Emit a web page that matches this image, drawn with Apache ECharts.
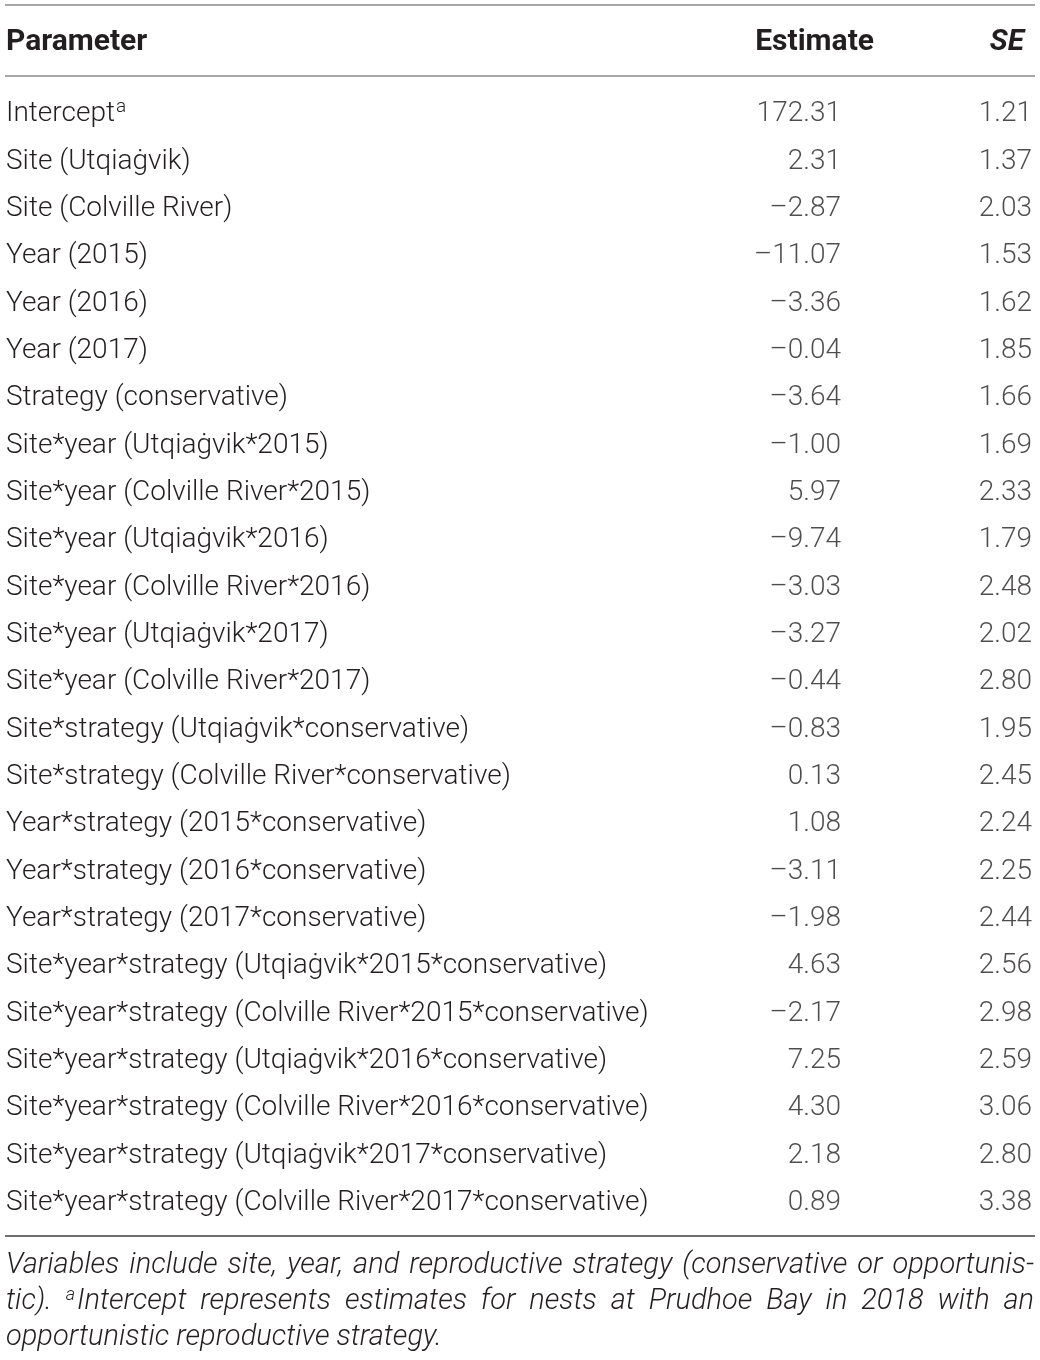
<!DOCTYPE html>
<html>
<head>
    <meta charset="utf-8">
    <script src="https://cdn.jsdelivr.net/npm/echarts@6/dist/echarts.min.js"></script>
</head>
<body>
    <div id="table"></div>
</body>
<style>
    body {
        margin: 0;
        background: #fff;
    }

    #table {
        width: 1040px;
        height: 1360px;
    }
</style>
<script>
    // table data
    const headers = ['Parameter', 'Estimate', 'SE']
    const parameters = [
        'Intercept',
        'Site (Utqiaġvik)',
        'Site (Colville River)',
        'Year (2015)',
        'Year (2016)',
        'Year (2017)',
        'Strategy (conservative)',
        'Site*year (Utqiaġvik*2015)',
        'Site*year (Colville River*2015)',
        'Site*year (Utqiaġvik*2016)',
        'Site*year (Colville River*2016)',
        'Site*year (Utqiaġvik*2017)',
        'Site*year (Colville River*2017)',
        'Site*strategy (Utqiaġvik*conservative)',
        'Site*strategy (Colville River*conservative)',
        'Year*strategy (2015*conservative)',
        'Year*strategy (2016*conservative)',
        'Year*strategy (2017*conservative)',
        'Site*year*strategy (Utqiaġvik*2015*conservative)',
        'Site*year*strategy (Colville River*2015*conservative)',
        'Site*year*strategy (Utqiaġvik*2016*conservative)',
        'Site*year*strategy (Colville River*2016*conservative)',
        'Site*year*strategy (Utqiaġvik*2017*conservative)',
        'Site*year*strategy (Colville River*2017*conservative)'
    ]
    const estimates = [172.31, 2.31, -2.87, -11.07, -3.36, -0.04, -3.64, -1.00, 5.97, -9.74, -3.03, -3.27,
        -0.44, -0.83, 0.13, 1.08, -3.11, -1.98, 4.63, -2.17, 7.25, 4.30, 2.18, 0.89]
    const standardErrors = [1.21, 1.37, 2.03, 1.53, 1.62, 1.85, 1.66, 1.69, 2.33, 1.79, 2.48, 2.02,
        2.80, 1.95, 2.45, 2.24, 2.25, 2.44, 2.56, 2.98, 2.59, 3.06, 2.80, 3.38]
    const footnoteLines = [
        'Variables include site, year, and reproductive strategy (conservative or opportunis-',
        'tic). ^aIntercept represents estimates for nests at Prudhoe Bay in 2018 with an',
        'opportunistic reproductive strategy.'
    ]

    const FONT = 'Roboto, "Liberation Sans", sans-serif'
    const TEXT = '#231f20'
    const bodySize = 28
    const noteSize = 29
    // right edges of the number columns (x axis runs 0..1040 like the page)
    const colRight = { estimate: 841, se: 1032 }

    const fmt = v => (v < 0 ? '\u2013' : '') + Math.abs(v).toFixed(2)

    const chart = echarts.init(document.getElementById('table'), null, { renderer: 'canvas' })

    // justified footnote, word by word
    const ctx = document.createElement('canvas').getContext('2d')
    function measure(text, size) {
        ctx.font = `italic 300 ${size}px Roboto`
        return ctx.measureText(text).width
    }
    const supSize = 18
    const noteLeft = 6, noteRight = 1034
    const noteGraphics = []
    footnoteLines.forEach((line, li) => {
        const words = line.split(' ')
        const widths = words.map(w => w.startsWith('^a')
            ? measure('a', supSize) + measure(w.slice(2), noteSize) + 2
            : measure(w, noteSize))
        const total = widths.reduce((a, b) => a + b, 0)
        const last = li === footnoteLines.length - 1
        const gap = last ? measure(' ', noteSize) : (noteRight - noteLeft - total) / (words.length - 1)
        let x = noteLeft
        const y = 1266 + li * 36
        words.forEach((w, wi) => {
            const sup = w.startsWith('^a')
            noteGraphics.push({
                type: 'text',
                x: x,
                y: y,
                style: {
                    text: sup ? `{s|a}{n|${w.slice(2)}}` : w,
                    rich: sup ? {
                        s: { fontSize: supSize, fontStyle: 'italic', fontWeight: 300, fontFamily: FONT, fill: TEXT, padding: [0, 2, 13, 0] },
                        n: { fontSize: noteSize, fontStyle: 'italic', fontWeight: 300, fontFamily: FONT, fill: TEXT }
                    } : undefined,
                    fontSize: noteSize,
                    fontStyle: 'italic',
                    fontWeight: 300,
                    fontFamily: FONT,
                    fill: TEXT,
                    verticalAlign: 'middle'
                }
            })
            x += widths[wi] + gap
        })
    })

    const header = (text, x, align, italic) => ({
        type: 'text',
        x: x,
        y: 42,
        style: {
            text: text,
            fontSize: 30,
            fontWeight: 'bold',
            fontStyle: italic ? 'italic' : 'normal',
            fontFamily: FONT,
            fill: TEXT,
            align: align,
            verticalAlign: 'middle'
        }
    })
    const rule = (y, color) => ({
        type: 'line',
        shape: { x1: 5, y1: y, x2: 1035, y2: y },
        style: { stroke: color, lineWidth: 2 }
    })

    const valueLabel = {
        show: true,
        position: 'left',
        distance: 0,
        color: TEXT,
        fontSize: bodySize,
        fontWeight: 300,
        fontFamily: FONT,
        formatter: p => fmt(p.value[2])
    }

    const option = {
        animation: false,
        grid: { left: 0, right: 0, top: 90.6, bottom: 133.4 },
        xAxis: { type: 'value', min: 0, max: 1040, show: false },
        yAxis: {
            type: 'category',
            inverse: true,
            data: parameters,
            axisLine: { show: false },
            axisTick: { show: false },
            splitLine: { show: false },
            axisLabel: {
                inside: true,
                margin: 6,
                formatter: v => v === 'Intercept' ? '{n|Intercept}{s|a}' : `{n|${v}}`,
                rich: {
                    n: { fontSize: bodySize, fontWeight: 300, fontFamily: FONT, color: TEXT },
                    s: { fontSize: 19, fontWeight: 300, fontFamily: FONT, color: TEXT, padding: [0, 0, 15, 1] }
                }
            }
        },
        series: [
            {
                name: headers[1],
                type: 'scatter',
                symbolSize: 0.1,
                itemStyle: { color: 'rgba(0,0,0,0)' },
                label: valueLabel,
                data: estimates.map((v, i) => [colRight.estimate, parameters[i], v])
            },
            {
                name: headers[2],
                type: 'scatter',
                symbolSize: 0.1,
                itemStyle: { color: 'rgba(0,0,0,0)' },
                label: valueLabel,
                data: standardErrors.map((v, i) => [colRight.se, parameters[i], v])
            }
        ],
        graphic: [
            rule(5, '#a7a7a7'),
            rule(76, '#a7a7a7'),
            rule(1236, '#6f6f6f'),
            header(headers[0], 6, 'left', false),
            header(headers[1], 874, 'right', false),
            header(headers[2], 1024, 'right', true)
        ].concat(noteGraphics)
    }

    chart.setOption(option)
</script>
</html>
